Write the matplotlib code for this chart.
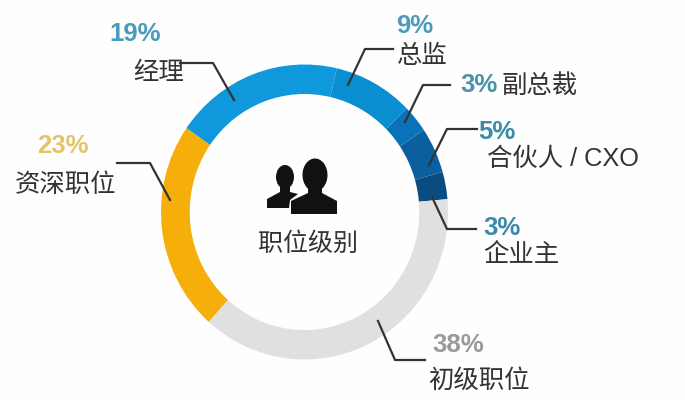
# Job level donut chart

import matplotlib.pyplot as plt
from matplotlib.patches import Ellipse, Polygon

plt.rcParams['font.family'] = ['Liberation Sans', 'Noto Sans CJK SC', 'DejaVu Sans']

# going counter clockwise from the right side of the ring
levels = ['企业主', '合伙人 / CXO', '副总裁', '总监', '经理', '资深职位', '初级职位']
shares = [3, 5, 3, 9, 19, 23, 38]
ring_colors = ['#0a4c80', '#0b5f9f', '#0a72b8', '#0a8ed2', '#0f98dc', '#f5ae0a', '#e0e0e2']
label_colors = ['#3a8aa8', '#3a8aa8', '#4a92ac', '#4a9cb8', '#4a9cba', '#e4c46a', '#9a9a9c']

fig = plt.figure(figsize=(6.85, 4), dpi=100, facecolor='#fefefe')

# ring, the picture is a little taller than wide
cx, cy, rx, ry = 304.5, 212, 143.5, 147.5
ring = fig.add_axes([(cx - rx) / 685, 1 - (cy + ry) / 400, 2 * rx / 685, 2 * ry / 400])
ring.pie(shares, colors=ring_colors, startangle=5, counterclock=True, radius=1,
         wedgeprops={'width': 0.2, 'linewidth': 0})
ring.set_aspect('auto')
ring.set_xlim(-1, 1)
ring.set_ylim(-1, 1)

# overlay in pixel coordinates for the text and leaders
ax = fig.add_axes([0, 0, 1, 1])
ax.set_xlim(0, 685)
ax.set_ylim(400, 0)
ax.axis('off')
ax.patch.set_alpha(0)

leaders = [
    ([476, 447, 432], [229, 229, 197]),
    ([477, 447, 429], [129, 129, 165]),
    ([450, 423, 405], [85, 85, 122]),
    ([393, 365, 348], [49, 49, 85]),
    ([180, 213, 234], [63, 63, 100]),
    ([117, 150, 170], [163, 163, 200]),
    ([425, 395, 378], [360, 360, 321]),
]
for xs, ys in leaders:
    ax.plot(xs, ys, color='#333333', lw=1.6, solid_joinstyle='round')

label_pos = [(502, 228), (497, 132), (479, 85), (415, 26), (135, 34), (63, 146), (458, 345)]
level_pos = [(521, 255), (563, 159), (540, 86), (422, 56), (159, 73), (66, 185), (479, 381)]
for i in range(len(levels)):
    ax.text(*label_pos[i], f'{shares[i]}%', color=label_colors[i], fontsize=18.5, fontweight='bold',
            ha='center', va='center')
    ax.text(*level_pos[i], levels[i], color='#333333', fontsize=18.3, ha='center', va='center')

ax.text(308, 244, '职位级别', color='#333333', fontsize=18, ha='center', va='center')

# people icon, back person then front person
ax.add_patch(Ellipse((285, 177), 18, 24, color='#111111', lw=0))
ax.add_patch(Polygon([(280, 185), (290, 185), (290, 192), (298, 194), (290, 200), (289, 208),
                      (267, 208), (267, 199), (280, 192)], color='#111111', lw=0))
ax.add_patch(Ellipse((315, 175), 25, 33, color='#111111', lw=0))
ax.add_patch(Polygon([(308, 185), (322, 185), (322, 193), (337, 201), (337, 214),
                      (291, 214), (291, 201), (308, 193)], color='#111111', lw=0))

fig.savefig('out.png', dpi=100, facecolor=fig.get_facecolor())
